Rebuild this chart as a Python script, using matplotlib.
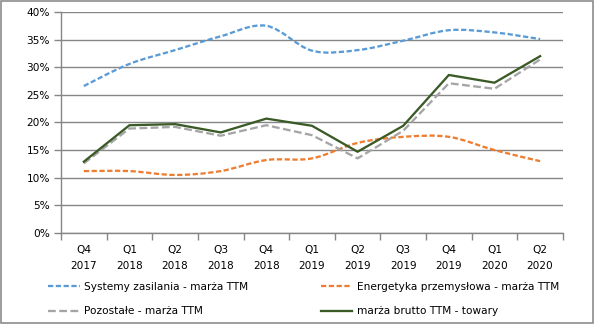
import matplotlib.pyplot as plt
from matplotlib.path import Path
from matplotlib.patches import PathPatch
from matplotlib.lines import Line2D
from matplotlib.ticker import FuncFormatter

quarters = ['Q4\n2017', 'Q1\n2018', 'Q2\n2018', 'Q3\n2018', 'Q4\n2018', 'Q1\n2019',
            'Q2\n2019', 'Q3\n2019', 'Q4\n2019', 'Q1\n2020', 'Q2\n2020']

systemy = [26.6, 30.6, 33.1, 35.6, 37.5, 33.0, 33.1, 34.8, 36.7, 36.3, 35.1]
energetyka = [11.2, 11.2, 10.5, 11.2, 13.2, 13.5, 16.3, 17.4, 17.4, 15.0, 13.0]
pozostale = [12.6, 18.9, 19.2, 17.6, 19.5, 17.7, 13.5, 18.5, 27.1, 26.1, 31.4]
towary = [12.9, 19.5, 19.7, 18.2, 20.7, 19.4, 14.7, 19.4, 28.6, 27.2, 32.0]

labels = ['Systemy zasilania - marża TTM', 'Energetyka przemysłowa - marża TTM',
          'Pozostałe - marża TTM', 'marża brutto TTM - towary']

plt.rcParams['font.family'] = 'DejaVu Sans'
plt.rcParams['font.size'] = 7.6

blue = '#5b9bd5'
orange = '#ed7d31'
gray = '#a5a5a5'
green = '#3a5a26'
lw = 1.65
short_dash = (2.3, 1.1)
long_dash = (3.4, 1.5)


def smooth_path(ys):
    # Catmull-Rom style bezier through the points (Excel "smoothed line")
    xs = list(range(len(ys)))
    verts = [(xs[0], ys[0])]
    codes = [Path.MOVETO]
    n = len(ys)
    for i in range(n - 1):
        x0, y0 = xs[max(i - 1, 0)], ys[max(i - 1, 0)]
        x1, y1 = xs[i], ys[i]
        x2, y2 = xs[i + 1], ys[i + 1]
        x3, y3 = xs[min(i + 2, n - 1)], ys[min(i + 2, n - 1)]
        c1 = (x1 + (x2 - x0) / 6, y1 + (y2 - y0) / 6)
        c2 = (x2 - (x3 - x1) / 6, y2 - (y3 - y1) / 6)
        verts += [c1, c2, (x2, y2)]
        codes += [Path.CURVE4] * 3
    return Path(verts, codes)


fig = plt.figure(figsize=(5.94, 3.24), dpi=100)
ax = fig.add_axes([0.1027, 0.281, 0.845, 0.682])

x = range(len(quarters))
for ys, color in [(systemy, blue), (energetyka, orange)]:
    patch = PathPatch(smooth_path(ys), facecolor='none', edgecolor=color,
                      linewidth=lw, linestyle=(0, short_dash), capstyle='butt', zorder=3)
    ax.add_patch(patch)
ax.plot(x, pozostale, color=gray, linewidth=lw, dashes=long_dash, zorder=3)
ax.plot(x, towary, color=green, linewidth=lw, zorder=4)

ax.set_xlim(-0.5, len(quarters) - 0.5)
ax.set_ylim(0, 40)
ax.set_yticks(range(0, 41, 5))
ax.yaxis.set_major_formatter(FuncFormatter(lambda v, p: f'{int(v)}%'))
ax.set_xticks(list(x))
ax.set_xticklabels(quarters, linespacing=1.7)
ax.set_xticks([i - 0.5 for i in range(len(quarters) + 1)], minor=True)
ax.tick_params(axis='x', which='major', length=0, pad=9)
ax.tick_params(axis='x', which='minor', length=5, color='#868686', width=1)
ax.tick_params(axis='y', length=5, color='#868686', width=1, pad=3)
ax.grid(axis='y', color='#868686', linewidth=1)
ax.set_axisbelow(True)
for s in ['top', 'right']:
    ax.spines[s].set_visible(False)
for s in ['left', 'bottom']:
    ax.spines[s].set_color('#868686')
    ax.spines[s].set_linewidth(1)

handles = [
    Line2D([], [], color=blue, linewidth=lw, dashes=short_dash),
    Line2D([], [], color=gray, linewidth=lw, dashes=long_dash),
    Line2D([], [], color=orange, linewidth=lw, dashes=short_dash),
    Line2D([], [], color=green, linewidth=lw),
]
fig.legend(handles, [labels[0], labels[2], labels[1], labels[3]], ncol=2,
           loc='lower left', bbox_to_anchor=(0.07, 0.004), frameon=False,
           handlelength=3.0, handletextpad=0.4, columnspacing=6.9,
           labelspacing=1.35, borderaxespad=0.2)

# outer frame of the chart area
fig.patches.append(plt.Rectangle((0.001, 0.002), 0.997, 0.995, transform=fig.transFigure,
                                 fill=False, edgecolor='#8c8c8c', linewidth=1.2))

fig.savefig('out.png', dpi=100)
